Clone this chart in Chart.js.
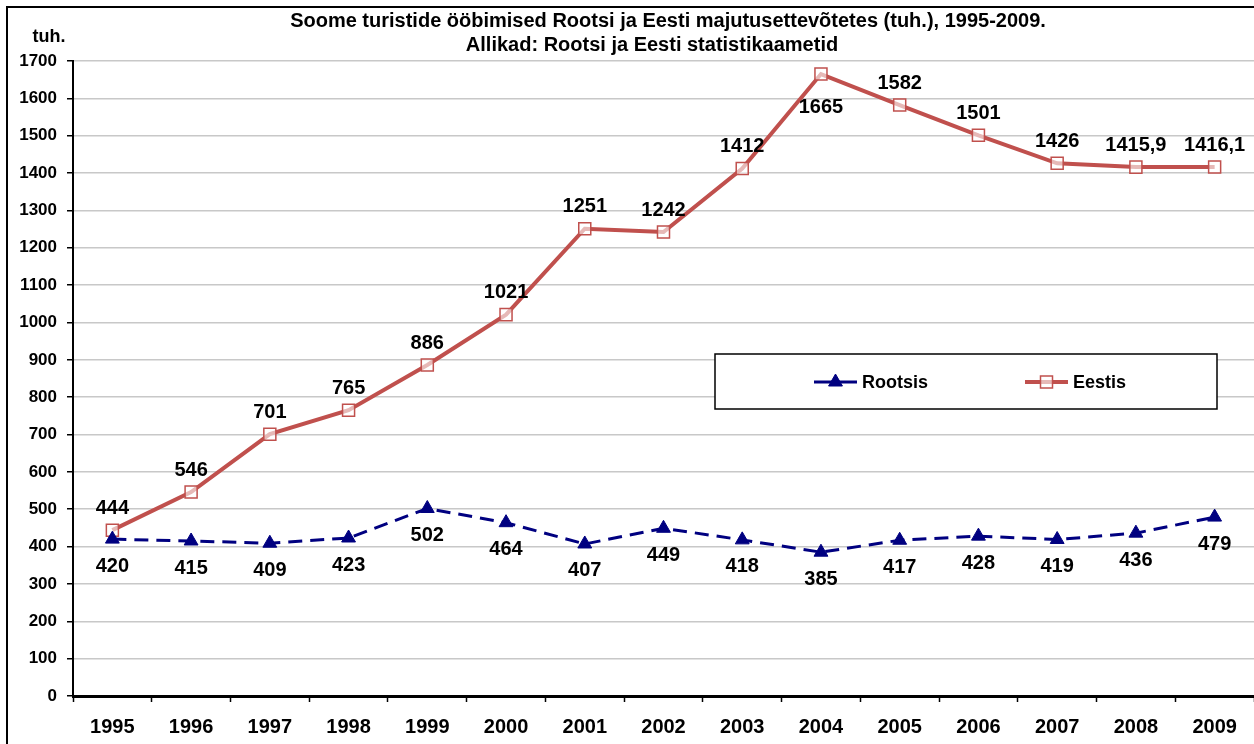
<!DOCTYPE html>
<html>
<head>
<meta charset="utf-8">
<script src="https://cdn.jsdelivr.net/npm/chart.js@4/dist/chart.umd.min.js"></script>
<style>
  html, body { margin: 0; padding: 0; background: #fff; overflow: hidden; }
  #wrap { position: absolute; left: 0; top: 0; }
</style>
</head>
<body>
<div id="wrap"><canvas id="chart" width="1264" height="744"></canvas></div>
<script>
const years = ["1995", "1996", "1997", "1998", "1999", "2000", "2001", "2002",
  "2003", "2004", "2005", "2006", "2007", "2008", "2009"];
const rootsis = [420, 415, 409, 423, 502, 464, 407, 449, 418, 385, 417, 428, 419, 436, 479];
const eestis = [444, 546, 701, 765, 886, 1021, 1251, 1242, 1412, 1665, 1582, 1501, 1426, 1415.9, 1416.1];
const yTicks = [0, 100, 200, 300, 400, 500, 600, 700, 800, 900, 1000, 1100, 1200, 1300, 1400, 1500, 1600, 1700];

const titleLines = [
  "Soome turistide ööbimised Rootsi ja Eesti majutusettevõtetes (tuh.), 1995-2009.",
  "Allikad: Rootsi ja Eesti statistikaametid"
];
const unitLabel = "tuh.";
// Eestis labels that sit under the point instead of above
const eestisBelow = ["2004"];

const FONT = "'Liberation Sans', Arial, sans-serif";
const navy = "#000080";
const red = "#c0504d";

function fmt(v) {
  return String(v).replace(".", ",");
}

const decor = {
  id: "decor",
  beforeDraw(chart) {
    const c = chart.ctx;
    c.save();
    c.strokeStyle = "#000";
    c.lineWidth = 2;
    c.strokeRect(7, 7, 1400, 900);
    c.restore();
  },
  afterDatasetsDraw(chart) {
    const c = chart.ctx;
    c.save();
    c.fillStyle = "#000";
    c.textAlign = "center";
    c.textBaseline = "middle";
    c.font = "bold 20px " + FONT;

    const mr = chart.getDatasetMeta(0);
    mr.data.forEach((p, i) => {
      c.fillText(fmt(rootsis[i]), p.x, p.y + 27);
    });
    const me = chart.getDatasetMeta(1);
    me.data.forEach((p, i) => {
      const below = eestisBelow.includes(years[i]);
      c.fillText(fmt(eestis[i]), p.x, below ? p.y + 33 : p.y - 22);
    });

    // title
    c.font = "bold 20px " + FONT;
    c.fillText(titleLines[0], 668, 21);
    c.fillText(titleLines[1], 652, 45);

    c.font = "bold 18px " + FONT;
    c.fillText(unitLabel, 49, 37);

    // legend box
    c.fillStyle = "#fff";
    c.fillRect(715, 354, 502, 55);
    c.strokeStyle = "#000";
    c.lineWidth = 1.5;
    c.strokeRect(715, 354, 502, 55);

    const items = [
      { ds: chart.data.datasets[0], x: 814 },
      { ds: chart.data.datasets[1], x: 1025 }
    ];
    const ly = 382;
    items.forEach(it => {
      const ds = it.ds;
      c.strokeStyle = ds.borderColor;
      c.lineWidth = ds.borderWidth;
      c.setLineDash([]);
      c.beginPath();
      c.moveTo(it.x, ly);
      c.lineTo(it.x + 43, ly);
      c.stroke();
      c.fillStyle = ds.pointBackgroundColor;
      c.strokeStyle = ds.pointBorderColor;
      c.lineWidth = ds.pointBorderWidth;
      Chart.helpers.drawPoint(c, {
        pointStyle: ds.pointStyle,
        radius: ds.pointRadius,
        borderWidth: ds.pointBorderWidth,
        rotation: 0
      }, it.x + 21.5, ly);
      c.fillStyle = "#000";
      c.textAlign = "left";
      c.font = "bold 18px " + FONT;
      c.fillText(ds.label, it.x + 48, ly + 1);
    });
    c.restore();
  }
};

new Chart(document.getElementById("chart"), {
  type: "line",
  data: {
    labels: years,
    datasets: [
      {
        label: "Rootsis",
        data: rootsis,
        borderColor: navy,
        borderWidth: 3,
        borderDash: [14, 8],
        pointStyle: "triangle",
        pointRadius: 8,
        pointBackgroundColor: navy,
        pointBorderColor: navy,
        pointBorderWidth: 1,
        tension: 0
      },
      {
        label: "Eestis",
        data: eestis,
        borderColor: red,
        borderWidth: 4,
        pointStyle: "rect",
        pointRadius: 8.5,
        pointBackgroundColor: "rgba(255,255,255,0.6)",
        pointBorderColor: red,
        pointBorderWidth: 1.5,
        tension: 0
      }
    ]
  },
  options: {
    responsive: false,
    devicePixelRatio: 1,
    animation: false,
    layout: { padding: { left: 0, top: 61, right: 6, bottom: 0 } },
    plugins: {
      legend: { display: false },
      title: { display: false },
      tooltip: { enabled: false }
    },
    scales: {
      x: {
        offset: true,
        grid: {
          offset: true,
          drawOnChartArea: false,
          drawTicks: true,
          tickLength: 6,
          tickColor: "#000",
          tickWidth: 1.5
        },
        border: { color: "#000", width: 3 },
        ticks: {
          color: "#000",
          padding: 13,
          maxRotation: 0,
          autoSkip: false,
          font: { family: FONT, size: 20, weight: "bold" }
        },
        afterFit(scale) { scale.height = 48; }
      },
      y: {
        min: 0,
        max: 1700,
        afterBuildTicks(scale) {
          scale.ticks = yTicks.map(v => ({ value: v }));
        },
        grid: {
          color: "#c8c8c8",
          lineWidth: 1.5,
          tickLength: 6,
          tickColor: "#000",
          tickWidth: 1.5
        },
        border: { color: "#000", width: 2 },
        ticks: {
          color: "#000",
          padding: 10,
          callback: v => String(v),
          font: { family: FONT, size: 17, weight: "bold" }
        },
        afterFit(scale) { scale.width = 73; }
      }
    }
  },
  plugins: [decor]
});
</script>
</body>
</html>
